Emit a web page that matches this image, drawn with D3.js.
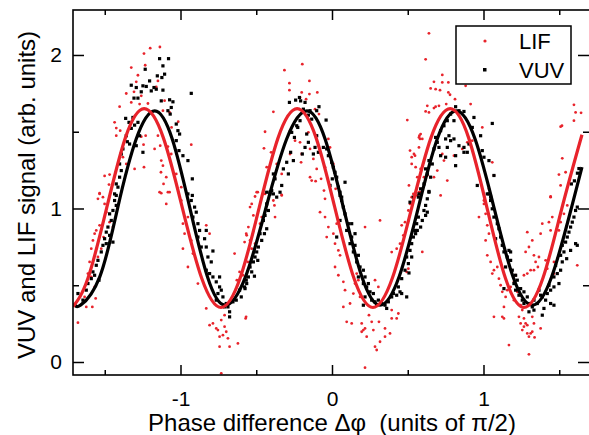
<!DOCTYPE html>
<html>
<head>
<meta charset="utf-8">
<script src="https://cdn.jsdelivr.net/npm/d3@7"></script>
<style>
  body { margin: 0; background: #fff; }
  svg { display: block; font-family: "Liberation Sans", Arial, sans-serif; }
</style>
</head>
<body>
<svg id="chart" width="589" height="435"></svg>
<script>
// LIF scatter (red dots) [phase, signal]
const lifPoints = [
  [-1.200,2.044],[-1.136,2.052],[-1.241,2.009],[-1.325,1.918],[-1.233,1.933],[-1.281,1.868],[-1.292,1.825],
  [-1.358,1.749],[-1.307,1.760],[-1.259,1.734],[-1.402,1.663],[-1.325,1.691],[-1.435,1.561],[-1.424,1.524],
  [-1.398,1.507],[-1.424,1.474],[-1.270,1.680],[-1.215,1.684],[-1.149,1.831],[-1.160,1.792],[-1.105,1.702],
  [-1.116,1.637],[-1.072,1.626],[-1.015,1.565],[-1.059,1.528],[-1.149,1.474],[-1.134,1.409],[-1.083,1.403],
  [-1.061,1.355],[-0.929,1.416],[-1.171,1.388],[-1.230,1.474],[-1.259,1.468],[-1.244,1.416],[-1.303,1.258],
  [-1.241,1.269],[-1.127,1.312],[-1.116,1.279],[-1.129,1.236],[-1.094,1.204],[-1.112,1.160],[-1.138,1.106],
  [-1.072,1.106],[-1.028,1.225],[-0.995,1.139],[-1.501,1.212],[-1.468,1.221],[-1.472,1.156],[-1.534,1.100],
  [-1.380,1.334],[-1.358,1.290],
  [-1.534,1.095],[-1.545,1.063],[-1.501,1.030],[-1.512,1.074],[-1.490,0.976],[-1.534,0.890],[-1.578,0.792],
  [-1.567,0.836],[-1.556,0.857],[-1.589,0.738],[-1.600,0.652],[-1.611,0.576],[-1.589,0.554],[-1.567,0.489],
  [-1.633,0.424],[-1.677,0.256],[-1.582,0.359],[-1.468,0.911],[-1.446,0.879],[-1.508,0.814],[-1.523,0.738],
  [-1.545,0.684],[-1.622,0.359],[-1.560,0.414],
  [-1.127,1.100],[-1.083,1.106],[-1.094,1.030],[-0.995,1.052],[-0.984,0.901],[-0.951,0.944],[-0.973,0.836],
  [-0.984,0.738],[-0.951,0.619],[-0.885,0.511],[-0.918,0.706],[-0.929,0.792],
  [-0.830,0.890],[-0.808,0.836],[-0.830,0.349],[-0.808,0.240],[-0.786,0.251],[-0.764,0.219],[-0.742,0.165],
  [-0.753,0.208],[-0.731,0.273],[-0.709,0.230],[-0.698,0.197],[-0.720,0.175],[-0.676,0.100],[-0.687,0.154],
  [-0.621,0.121],[-0.742,0.100],[-0.731,-0.074],[-0.643,0.706],[-0.610,0.587],[-0.588,0.565],[-0.577,0.781],
  [-0.566,0.836],[-0.628,0.533],[-0.570,0.284],[-0.709,0.305],
  [-0.196,1.940],[-0.314,1.901],[-0.281,1.816],[-0.149,1.831],[-0.281,1.771],[-0.200,1.756],[-0.149,1.745],
  [-0.097,1.756],[-0.211,1.723],[-0.171,1.712],[-0.387,1.630],[-0.112,1.647],[-0.086,1.615],[-0.442,1.500],
  [-0.449,1.392],[-0.431,1.269],[-0.508,1.078],[-0.490,1.106],[-0.402,1.366],[-0.365,1.290],[-0.332,1.225],
  [-0.332,1.089],[-0.277,1.507],[-0.244,1.442],[-0.277,1.355],[-0.211,1.431],[-0.204,1.301],[-0.156,1.496],
  [-0.145,1.388],[-0.123,1.323],[-0.101,1.258],[-0.145,1.204],[-0.134,1.182],[-0.108,1.178],[-0.072,1.193],
  [-0.053,1.117],[-0.046,1.269],[-0.024,1.453],[-0.013,1.398],[0.009,1.290],[0.024,1.128],[-0.046,1.063],
  [-0.200,1.355],[0.497,1.576],[0.515,1.377],[0.526,1.334],[0.548,1.344],[0.577,1.474],[0.581,1.453],
  [0.526,1.290],[0.508,1.150],
  [-0.497,1.106],[-0.530,1.030],[-0.541,1.009],[-0.519,0.955],[-0.552,0.879],[-0.563,0.825],[-0.541,0.792],
  [-0.508,0.771],[-0.530,0.738],[-0.556,0.652],[-0.475,0.901],[-0.464,0.944],[-0.567,0.294],[-0.442,1.095],
  [-0.332,1.085],[-0.380,1.020],[-0.376,0.944],[-0.387,1.052],
  [-0.079,0.976],[-0.046,0.944],[-0.024,0.879],[-0.035,0.814],[0.009,0.836],[0.031,0.901],[0.020,0.771],
  [0.042,0.727],[0.053,0.695],[0.020,0.619],[0.042,0.565],[0.075,0.522],[0.086,0.468],[0.075,0.359],
  [0.097,0.262],[0.119,0.381],[0.130,0.251],[0.141,0.446],[0.152,0.511],[0.163,0.576],[0.174,0.533],
  [0.185,0.424],[0.196,0.251],[0.207,0.208],[0.196,0.197],[0.218,0.219],[0.229,0.165],[0.244,0.305],
  [0.262,0.262],[0.273,0.208],[0.284,0.100],[0.295,0.078],[0.317,0.132],[0.310,0.262],[0.350,0.219],
  [0.350,0.165],[0.394,0.284],[0.394,0.338],[0.438,0.316],[0.427,0.284],[0.383,0.186],[0.218,-0.037],
  [0.218,0.879],[0.317,0.922],[0.284,0.533],[0.306,0.489],
  [0.394,0.716],[0.427,0.738],[0.449,0.771],[0.460,0.890],[0.482,0.911],[0.471,0.825],[0.504,0.987],
  [0.515,1.030],[0.526,1.074],[0.537,1.095],[0.504,0.608],[0.493,0.587],
  [0.640,2.141],[0.618,1.972],[0.728,1.870],[0.673,1.825],[0.728,1.821],[0.768,1.821],[0.651,1.782],
  [0.684,1.777],[0.713,1.771],[0.768,1.756],[0.779,1.741],[0.812,1.712],[0.754,1.680],[0.706,1.669],
  [0.629,1.669],[0.618,1.632],[0.673,1.654],[0.684,1.663],[0.640,1.626],[0.915,1.680],[0.882,1.799],
  [0.585,1.485],[0.574,1.463],[0.596,1.453],[0.541,1.355],[0.574,1.398],[0.552,1.269],[0.585,1.258],
  [0.563,1.204],[0.607,1.204],[0.673,1.204],[0.629,1.215],[0.695,1.247],[0.739,1.312],[0.728,1.355],
  [0.805,1.344],[0.860,1.388],[0.893,1.431],[0.926,1.442],[0.992,1.528],[1.058,1.301],[1.069,1.215],
  [1.036,1.128],[1.003,1.052],[0.717,1.085],[0.761,1.182],[0.574,1.106],
  [1.597,1.675],[1.608,1.626],[1.597,1.572],[1.509,1.533],[1.520,1.327],[1.498,1.221],[1.542,1.236],
  [1.509,1.150],[1.443,1.078],[1.644,1.623],[1.518,1.539],
  [0.585,1.106],[0.563,1.085],[0.596,0.717],
  [0.970,0.944],[1.014,0.965],[1.003,1.030],[1.025,0.890],[1.014,0.792],[1.036,0.836],[1.025,0.695],
  [1.047,0.652],[1.069,0.598],[1.058,0.576],[1.091,0.619],[1.102,0.543],[1.113,0.500],[1.124,0.457],
  [1.146,0.424],[1.135,0.359],[1.157,0.468],[1.179,0.489],[1.201,0.522],[1.212,0.565],[1.223,0.457],
  [1.201,0.403],[1.069,0.294],[1.124,0.294],[1.135,0.284],[1.168,0.110],[1.234,0.294],[1.245,0.370],
  [1.256,0.338],[1.267,0.284],[1.245,0.251],[1.256,0.208],[1.267,0.230],[1.278,0.251],[1.289,0.186],
  [1.300,0.165],[1.311,0.186],[1.322,0.197],[1.337,0.160],[1.289,0.240],[1.300,0.050],[1.377,0.219],
  [1.333,0.251],[1.322,0.294],[1.278,0.717],[1.289,0.846],[1.300,0.749],[1.322,0.792],[1.333,0.695],
  [1.344,0.652],[1.311,0.598],[1.333,0.598],[1.366,0.684],[1.377,0.836],[1.388,0.901],[1.410,0.662],
  [1.432,0.911],[1.443,0.857],[1.454,0.944],[1.465,0.652],[1.487,0.673],[1.498,0.857],[1.509,0.911],
  [1.531,0.965],[1.553,1.020],[1.520,0.781],[1.465,0.576],[1.421,0.608],[1.359,0.619],[1.267,0.565],
  [1.289,0.576],[1.443,1.074],[1.619,0.630]
];

// VUV scatter (black squares) [phase, signal]
const vuvPoints = [
  [-0.929,1.750],[-1.138,1.976],[-1.079,1.976],[-1.116,1.929],[-1.105,1.875],[-1.153,1.864],[-1.123,1.853],
  [-1.233,1.907],[-1.204,1.831],[-1.248,1.799],[-1.226,1.795],[-1.175,1.788],[-1.160,1.777],[-1.116,1.771],
  [-1.193,1.766],[-1.325,1.803],[-1.292,1.788],[-1.259,1.760],[-1.307,1.719],[-1.281,1.719],[-1.127,1.701],
  [-1.072,1.708],[-1.050,1.695],[-1.061,1.658],[-1.083,1.637],[-1.068,1.615],[-1.362,1.587],[-1.314,1.593],
  [-1.340,1.561],[-1.325,1.522],[-1.303,1.543],[-1.281,1.561],[-1.028,1.550],[-1.017,1.507],[-1.006,1.485],
  [-1.028,1.442],[-1.010,1.377],[-0.984,1.344],[-0.951,1.312],[-0.922,1.193],[-0.922,1.085],[-1.380,1.388],
  [-1.391,1.355],[-1.358,1.474],[-1.351,1.435],[-1.336,1.420],[-1.402,1.290],[-1.391,1.247],[-1.402,1.204],
  [-1.424,1.160],[-1.413,1.139],[-1.435,1.095],[-1.270,1.474],[-1.292,1.409],[-1.248,1.366],
  [-1.424,1.085],[-1.435,1.052],[-1.424,1.020],[-1.446,0.987],[-1.468,0.965],[-1.457,0.922],[-1.479,0.879],
  [-1.490,0.846],[-1.468,0.825],[-1.501,0.803],[-1.512,0.760],[-1.523,0.717],[-1.545,0.662],[-1.556,0.630],
  [-1.578,0.587],[-1.589,0.543],[-1.538,0.533],[-1.622,0.468],[-1.677,0.446],[-1.644,0.403],[-1.699,0.370],
  [-1.446,0.781],[-1.490,0.771],[-1.567,0.565],[-1.611,0.511],
  [-0.951,1.095],[-0.929,1.052],[-0.907,1.009],[-0.896,0.976],[-0.918,0.944],[-0.885,0.901],[-0.874,0.857],
  [-0.885,0.814],[-0.841,0.803],[-0.863,0.749],[-0.830,0.749],[-0.819,0.684],[-0.797,0.652],[-0.830,0.598],
  [-0.808,0.576],[-0.786,0.554],[-0.764,0.522],[-0.742,0.489],[-0.753,0.446],[-0.731,0.468],[-0.764,0.403],
  [-0.720,0.424],[-0.698,0.381],[-0.687,0.359],[-0.676,0.327],[-0.676,0.294],[-0.654,0.392],[-0.632,0.403],
  [-0.599,0.424],[-0.610,0.468],[-0.577,0.489],[-0.566,0.533],[-0.830,0.857],[-0.786,0.723],[-0.742,0.554],
  [-0.709,0.359],
  [-0.281,1.691],[-0.240,1.706],[-0.215,1.723],[-0.207,1.701],[-0.178,1.691],[-0.189,1.647],[-0.145,1.637],
  [-0.156,1.608],[-0.086,1.663],[-0.101,1.637],[-0.039,1.576],[-0.134,1.582],[-0.211,1.572],[-0.226,1.528],
  [-0.266,1.496],[-0.248,1.463],[-0.233,1.539],[-0.167,1.485],[-0.156,1.431],[-0.112,1.398],[-0.101,1.474],
  [-0.090,1.366],[-0.057,1.398],[-0.035,1.388],[-0.024,1.344],[-0.002,1.301],[0.009,1.269],[0.020,1.236],
  [0.002,1.193],[-0.013,1.150],[0.031,1.204],[0.042,1.139],[0.086,1.171],[0.064,1.074],[0.053,1.106],
  [-0.178,1.398],[-0.196,1.355],[-0.255,1.312],[-0.299,1.301],[-0.288,1.225],[-0.321,1.258],[-0.332,1.150],
  [-0.387,1.225],[-0.376,1.193],[-0.398,1.117],[-0.409,1.095],[-0.431,1.106],[-0.343,1.106],[-0.365,1.074],
  [-0.273,1.366],[-0.123,1.355],[0.570,1.074],
  [-0.409,1.106],[-0.387,1.095],[-0.431,1.030],[-0.420,0.987],[-0.442,0.955],[-0.453,0.922],[-0.431,0.868],
  [-0.446,0.836],[-0.475,0.836],[-0.464,0.792],[-0.486,0.749],[-0.497,0.717],[-0.508,0.684],[-0.519,0.652],
  [-0.490,0.662],[-0.541,0.619],[-0.530,0.587],[-0.552,0.554],[-0.563,0.511],[-0.574,0.478],[-0.512,0.559],
  [0.053,1.085],[0.064,1.052],[0.075,1.009],[0.086,0.965],[0.053,0.922],[0.108,0.901],[0.097,0.857],
  [0.031,0.814],[0.130,0.814],[0.119,0.771],[0.152,0.760],[0.141,0.717],[0.174,0.695],[0.163,0.652],
  [0.185,0.619],[0.207,0.598],[0.174,0.554],[0.218,0.554],[0.207,0.511],[0.229,0.489],[0.240,0.511],
  [0.251,0.457],[0.273,0.446],[0.218,0.424],[0.262,0.403],[0.284,0.392],[0.295,0.370],[0.306,0.403],
  [0.328,0.381],[0.350,0.370],[0.361,0.349],[0.372,0.392],[0.394,0.424],[0.405,0.446],[0.427,0.435],
  [0.449,0.457],[0.460,0.446],[0.493,0.424],[0.438,0.489],[0.207,0.370],[0.152,0.836],[0.130,0.901],
  [0.460,0.543],[0.482,0.598],[0.504,0.641],[0.493,0.684],[0.515,0.727],[0.526,0.771],[0.537,0.814],
  [0.548,0.857],[0.559,0.901],[0.570,0.944],[0.526,0.684],[0.508,0.580],[0.515,1.041],[0.537,1.074],
  [0.816,1.663],[0.838,1.637],[0.871,1.632],[0.783,1.615],[0.761,1.572],[0.805,1.572],[0.739,1.539],
  [0.717,1.507],[0.772,1.474],[0.750,1.453],[0.783,1.442],[0.805,1.453],[0.684,1.463],[0.695,1.431],
  [0.673,1.388],[0.706,1.398],[0.761,1.398],[0.838,1.409],[0.871,1.398],[0.904,1.420],[0.893,1.366],
  [0.937,1.593],[0.926,1.528],[0.981,1.474],[0.992,1.377],[1.003,1.334],[1.036,1.312],[1.058,1.554],
  [0.871,1.366],[0.816,1.344],[0.717,1.344],[0.750,1.334],[0.640,1.312],[0.662,1.290],[0.618,1.258],
  [0.629,1.225],[0.651,1.204],[0.607,1.160],[0.585,1.128],[0.574,1.095],[0.640,1.111],[0.816,1.279],
  [0.959,1.150],[1.025,1.095],[1.047,1.074],[1.069,1.215],
  [0.640,1.106],[0.629,1.063],[0.618,1.020],[0.607,0.987],[0.618,0.955],[0.596,0.922],[0.585,0.879],
  [0.563,0.857],[0.552,0.836],[0.629,0.976],
  [1.036,1.095],[1.047,1.052],[1.058,0.998],[1.069,0.944],[1.091,0.901],[1.102,0.868],[1.080,0.803],
  [1.113,0.814],[1.124,0.760],[1.135,0.717],[1.168,0.727],[1.157,0.684],[1.179,0.717],[1.179,0.662],
  [1.146,0.619],[1.190,0.598],[1.212,0.565],[1.223,0.533],[1.201,0.511],[1.135,0.478],[1.212,0.468],
  [1.245,0.478],[1.234,0.435],[1.267,0.457],[1.256,0.403],[1.289,0.424],[1.300,0.381],[1.322,0.359],
  [1.333,0.403],[1.355,0.381],[1.366,0.468],[1.377,0.435],[1.388,0.424],[1.410,0.403],[1.421,0.446],
  [1.443,0.468],[1.465,0.489],[1.443,0.381],[1.465,0.370],[1.399,0.349],[1.333,0.338],[1.300,0.327],
  [1.388,0.305],[1.267,0.381],[1.432,0.500],[1.465,0.554],[1.487,0.576],[1.509,0.598],[1.476,0.630],
  [1.520,0.652],[1.509,0.695],[1.531,0.717],[1.520,0.760],[1.542,0.781],[1.553,0.814],[1.564,0.846],
  [1.575,0.879],[1.586,0.911],[1.597,0.944],[1.608,0.987],[1.619,1.009],[1.608,0.771],[1.619,0.760],
  [1.549,0.673],[1.575,0.727],[1.498,0.511],
  [1.600,1.180],[1.620,1.230],[1.580,1.160],[1.630,1.260]
];

// fitted curves, read at peaks / troughs / eighth-periods
const lifFit = [
  [-1.710,0.360],[-1.611,0.545],[-1.488,1.000],[-1.364,1.460],[-1.240,1.650],[-1.113,1.460],[-0.987,1.000],
  [-0.860,0.545],[-0.733,0.355],[-0.607,0.545],[-0.482,1.000],[-0.356,1.460],[-0.230,1.650],[-0.105,1.460],
  [0.020,1.000],[0.145,0.545],[0.270,0.355],[0.398,0.545],[0.525,1.000],[0.653,1.460],[0.780,1.650],
  [0.902,1.460],[1.024,1.000],[1.145,0.545],[1.267,0.355],[1.392,0.545],[1.517,1.000],[1.650,1.480]
];
const vuvFit = [
  [-1.700,0.380],[-1.660,0.370],[-1.533,0.555],[-1.415,1.003],[-1.293,1.451],[-1.170,1.636],[-1.054,1.451],
  [-0.938,1.003],[-0.822,0.555],[-0.706,0.370],[-0.571,0.555],[-0.436,1.003],[-0.300,1.451],[-0.165,1.636],
  [-0.045,1.451],[0.076,1.003],[0.197,0.555],[0.317,0.370],[0.443,0.555],[0.569,1.003],[0.694,1.451],
  [0.820,1.636],[0.945,1.451],[1.070,1.003],[1.195,0.555],[1.320,0.370],[1.450,0.555],[1.580,1.003],
  [1.650,1.270]
];

const xMajor = [-1, 0, 1];
const xMinor = [-1.5, -0.5, 0.5, 1.5];
const yMajor = [0, 1, 2];
const yMinor = [0.5, 1.5];

const RED = "#e8232b";

const svg = d3.select("#chart");
const box = { left: 73, right: 590, top: 10, bottom: 375 };

const x = d3.scaleLinear().domain([-1.7096, 1.703]).range([box.left, box.right]);
const y = d3.scaleLinear().domain([-0.0847, 2.293]).range([box.bottom, box.top]);

svg.append("clipPath").attr("id", "plotclip")
  .append("rect")
  .attr("x", box.left).attr("y", box.top)
  .attr("width", box.right - box.left).attr("height", box.bottom - box.top);

const plot = svg.append("g").attr("clip-path", "url(#plotclip)");

// LIF dots
plot.append("g")
  .selectAll("circle")
  .data(lifPoints)
  .enter().append("circle")
  .attr("cx", d => x(d[0]))
  .attr("cy", d => y(d[1]))
  .attr("r", 1.4)
  .attr("fill", RED);

// VUV squares
plot.append("g")
  .selectAll("rect")
  .data(vuvPoints)
  .enter().append("rect")
  .attr("x", d => x(d[0]) - 1.6)
  .attr("y", d => y(d[1]) - 1.6)
  .attr("width", 3.2)
  .attr("height", 3.2)
  .attr("fill", "#000");

const line = d3.line()
  .x(d => x(d[0]))
  .y(d => y(d[1]))
  .curve(d3.curveNatural);

plot.append("path")
  .datum(vuvFit)
  .attr("d", line)
  .attr("fill", "none")
  .attr("stroke", "#000")
  .attr("stroke-width", 3.2);

plot.append("path")
  .datum(lifFit)
  .attr("d", line)
  .attr("fill", "none")
  .attr("stroke", RED)
  .attr("stroke-width", 3.2);

// axes, ticks pointing inward
function styleAxis(g) {
  g.select(".domain").remove();
  g.selectAll(".tick line").attr("stroke", "#000").attr("stroke-width", 1.5);
  g.selectAll(".tick text")
    .attr("fill", "#000")
    .style("font-size", "21px")
    .style("font-family", '"Liberation Sans", Arial, sans-serif');
}

svg.append("g")
  .attr("transform", `translate(0,${box.bottom})`)
  .call(d3.axisBottom(x).tickValues(xMajor).tickSize(-10).tickPadding(16)
    .tickFormat(d => d === 0 ? "0" : (d < 0 ? "-" : "") + Math.abs(d)))
  .call(styleAxis);
svg.append("g")
  .attr("transform", `translate(0,${box.bottom})`)
  .call(d3.axisBottom(x).tickValues(xMinor).tickSize(-5).tickFormat(""))
  .call(styleAxis);
svg.append("g")
  .attr("transform", `translate(0,${box.top})`)
  .call(d3.axisTop(x).tickValues(xMajor).tickSize(-10).tickFormat(""))
  .call(styleAxis);
svg.append("g")
  .attr("transform", `translate(0,${box.top})`)
  .call(d3.axisTop(x).tickValues(xMinor).tickSize(-5).tickFormat(""))
  .call(styleAxis);

svg.append("g")
  .attr("transform", `translate(${box.left},0)`)
  .call(d3.axisLeft(y).tickValues(yMajor).tickSize(-11).tickPadding(11)
    .tickFormat(d3.format("d")))
  .call(styleAxis);
svg.append("g")
  .attr("transform", `translate(${box.left},0)`)
  .call(d3.axisLeft(y).tickValues(yMinor).tickSize(-6).tickFormat(""))
  .call(styleAxis);
svg.append("g")
  .attr("transform", `translate(${box.right},0)`)
  .call(d3.axisRight(y).tickValues(yMajor).tickSize(-12).tickFormat(""))
  .call(styleAxis);
svg.append("g")
  .attr("transform", `translate(${box.right},0)`)
  .call(d3.axisRight(y).tickValues(yMinor).tickSize(-7).tickFormat(""))
  .call(styleAxis);

// frame
svg.append("rect")
  .attr("x", box.left).attr("y", box.top)
  .attr("width", box.right - box.left).attr("height", box.bottom - box.top)
  .attr("fill", "none")
  .attr("stroke", "#000")
  .attr("stroke-width", 1.6);

// axis titles
svg.append("text")
  .attr("x", 332)
  .attr("y", 431)
  .attr("text-anchor", "middle")
  .style("font-size", "24px")
  .style("white-space", "pre")
  .text("Phase difference \u0394\u03C6  (units of \u03C0/2)");

svg.append("text")
  .attr("transform", "translate(35,195) rotate(-90)")
  .attr("text-anchor", "middle")
  .style("font-size", "24px")
  .text("VUV and LIF signal (arb. units)");

// legend
const legend = svg.append("g");
legend.append("rect")
  .attr("x", 456).attr("y", 26)
  .attr("width", 115).attr("height", 58)
  .attr("fill", "#fff")
  .attr("stroke", "#000")
  .attr("stroke-width", 1.5);
legend.append("circle")
  .attr("cx", 485).attr("cy", 41).attr("r", 1.6).attr("fill", RED);
legend.append("rect")
  .attr("x", 483).attr("y", 68).attr("width", 3.5).attr("height", 3.5).attr("fill", "#000");
legend.append("text")
  .attr("x", 519).attr("y", 49)
  .style("font-size", "22px")
  .text("LIF");
legend.append("text")
  .attr("x", 519).attr("y", 78)
  .style("font-size", "22px")
  .text("VUV");
</script>
</body>
</html>
